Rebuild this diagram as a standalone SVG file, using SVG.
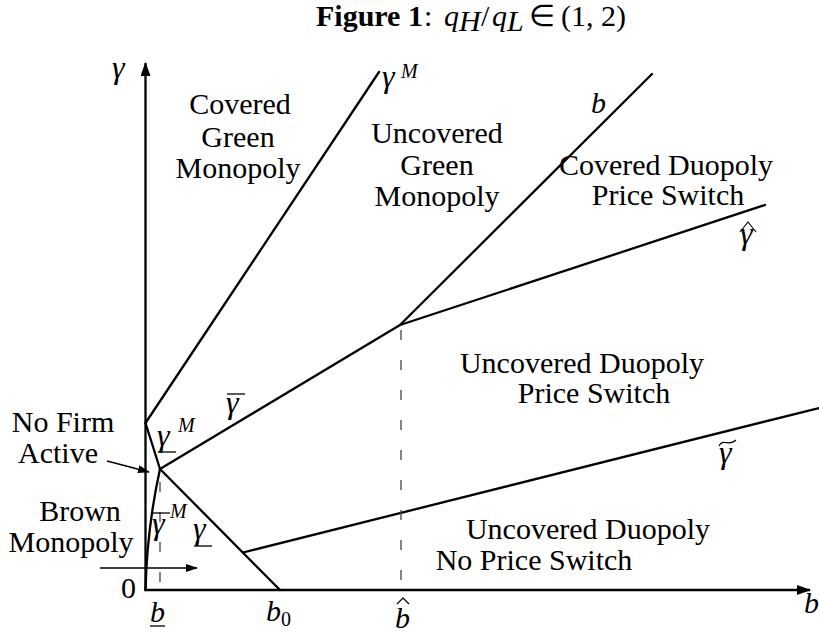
<svg xmlns="http://www.w3.org/2000/svg" width="819" height="634" viewBox="0 0 819 634">
<defs>
<style>
.t{font-family:"Liberation Serif","Times New Roman",serif;font-size:30px;fill:#000}
.i{font-style:italic}
.g{font-size:32px}
.s{font-size:20px}
.ln{stroke:#000;stroke-width:2.3;fill:none;stroke-linecap:round}
.ax{stroke:#000;stroke-width:2.3;fill:none}
.ds{stroke:#444;stroke-width:1.3;stroke-dasharray:10 20;fill:none}
.bar{stroke:#000;stroke-width:1.3}
.acc{stroke:#000;stroke-width:1.2;fill:none;stroke-linejoin:round}
.thin{stroke:#000;stroke-width:1.4;fill:none}
</style>
<marker id="ah" viewBox="0 0 14 10" refX="13" refY="5" markerWidth="14" markerHeight="10" markerUnits="userSpaceOnUse" orient="auto">
<path d="M0,0 L14,5 L0,10 Z" fill="#000"/>
</marker>
<marker id="ahs" viewBox="0 0 12 8" refX="11" refY="4" markerWidth="12" markerHeight="8" markerUnits="userSpaceOnUse" orient="auto">
<path d="M0,0 L12,4 L0,8 Z" fill="#000"/>
</marker>
</defs>
<rect width="819" height="634" fill="#fff"/>

<g id="title">
<text class="t" x="316" y="26" font-size="27" font-weight="bold">Figure 1</text>
<text class="t" x="424" y="26" font-size="27">:</text>
<text class="t i" x="444" y="26" font-size="27">q</text>
<text class="t i" x="459" y="31" font-size="19">H</text>
<text class="t" x="481" y="26" font-size="27">/</text>
<text class="t i" x="492" y="26" font-size="27">q</text>
<text class="t i" x="507" y="31" font-size="19">L</text>
<text class="t" x="529" y="26" font-size="27">∈</text>
<text class="t" x="561" y="26" font-size="28">(1, 2)</text>
</g>

<g id="axes">
<line class="ax" x1="145.5" y1="591" x2="145.5" y2="63" marker-end="url(#ah)"/>
<line class="ax" x1="144.5" y1="590" x2="810" y2="590" marker-end="url(#ah)"/>
<text class="t i g" x="112" y="78">γ</text>
<text class="t" x="121" y="598">0</text>
<text class="t i" x="804" y="613">b</text>
</g>

<g id="connectors">
<line class="ln" x1="145.5" y1="423" x2="379" y2="72"/>
<line class="ln" x1="145.5" y1="423" x2="160" y2="469"/>
<line class="ln" x1="160" y1="469" x2="400" y2="325"/>
<line class="ln" x1="400" y1="325" x2="652" y2="74"/>
<line class="ln" x1="400" y1="325" x2="765" y2="205"/>
<line class="ln" x1="160" y1="469" x2="280" y2="590"/>
<line class="ln" x1="243" y1="552.5" x2="819" y2="408"/>
<path class="ln" d="M145.5,590 Q147,528 160,469"/>
<line class="ds" x1="160" y1="482" x2="160" y2="590"/>
<line class="ds" x1="401" y1="330" x2="401" y2="590"/>
<line class="thin" x1="100" y1="568" x2="197" y2="568" marker-end="url(#ahs)"/>
<line class="thin" x1="107" y1="461" x2="149" y2="472" marker-end="url(#ahs)"/>
</g>

<g id="covered-green-monopoly">
<text class="t" x="240" y="114" text-anchor="middle">Covered</text>
<text class="t" x="238" y="147" text-anchor="middle">Green</text>
<text class="t" x="238" y="178" text-anchor="middle">Monopoly</text>
</g>

<g id="uncovered-green-monopoly">
<text class="t" x="437" y="143" text-anchor="middle">Uncovered</text>
<text class="t" x="437" y="175" text-anchor="middle">Green</text>
<text class="t" x="437" y="206" text-anchor="middle">Monopoly</text>
</g>

<g id="covered-duopoly-price-switch">
<text class="t" x="666" y="175" text-anchor="middle">Covered Duopoly</text>
<text class="t" x="668" y="205" text-anchor="middle">Price Switch</text>
</g>

<g id="uncovered-duopoly-price-switch">
<text class="t" x="582" y="373" text-anchor="middle">Uncovered Duopoly</text>
<text class="t" x="594" y="403" text-anchor="middle">Price Switch</text>
</g>

<g id="uncovered-duopoly-no-price-switch">
<text class="t" x="588" y="539" text-anchor="middle">Uncovered Duopoly</text>
<text class="t" x="534" y="570" text-anchor="middle">No Price Switch</text>
</g>

<g id="no-firm-active">
<text class="t" x="63" y="432" text-anchor="middle">No Firm</text>
<text class="t" x="58" y="463" text-anchor="middle">Active</text>
</g>

<g id="brown-monopoly">
<text class="t" x="80" y="521" text-anchor="middle">Brown</text>
<text class="t" x="71" y="552" text-anchor="middle">Monopoly</text>
</g>

<g id="curve-labels">
<text class="t i g" x="382" y="87">γ</text>
<text class="t i s" x="401" y="78">M</text>
<text class="t i" x="591" y="113">b</text>
<text class="t i g" x="740" y="244">γ</text>
<path class="acc" d="M740,232 L748,222 L756,232"/>
<text class="t i g" x="719" y="463">γ</text>
<path class="acc" d="M719,446 C723,438 729,447 736,440"/>
<text class="t i g" x="226" y="413">γ</text>
<line class="bar" x1="227" y1="394" x2="245" y2="394"/>
<text class="t i g" x="157" y="446">γ</text>
<line class="bar" x1="158" y1="452" x2="176" y2="452"/>
<text class="t i s" x="178" y="432">M</text>
<text class="t i g" x="152" y="534">γ</text>
<line class="bar" x1="153" y1="513" x2="170" y2="513"/>
<text class="t i s" x="170" y="518">M</text>
<text class="t i g" x="193" y="539">γ</text>
<line class="bar" x1="194" y1="546" x2="212" y2="546"/>
</g>

<g id="tick-labels">
<text class="t i" x="150" y="622">b</text>
<line class="bar" x1="150" y1="626" x2="165" y2="626"/>
<text class="t i" x="266" y="621">b</text>
<text class="t s" x="281" y="626">0</text>
<text class="t i" x="395" y="628">b</text>
<path class="acc" d="M397,604 L403,598 L409,604"/>
</g>
</svg>
